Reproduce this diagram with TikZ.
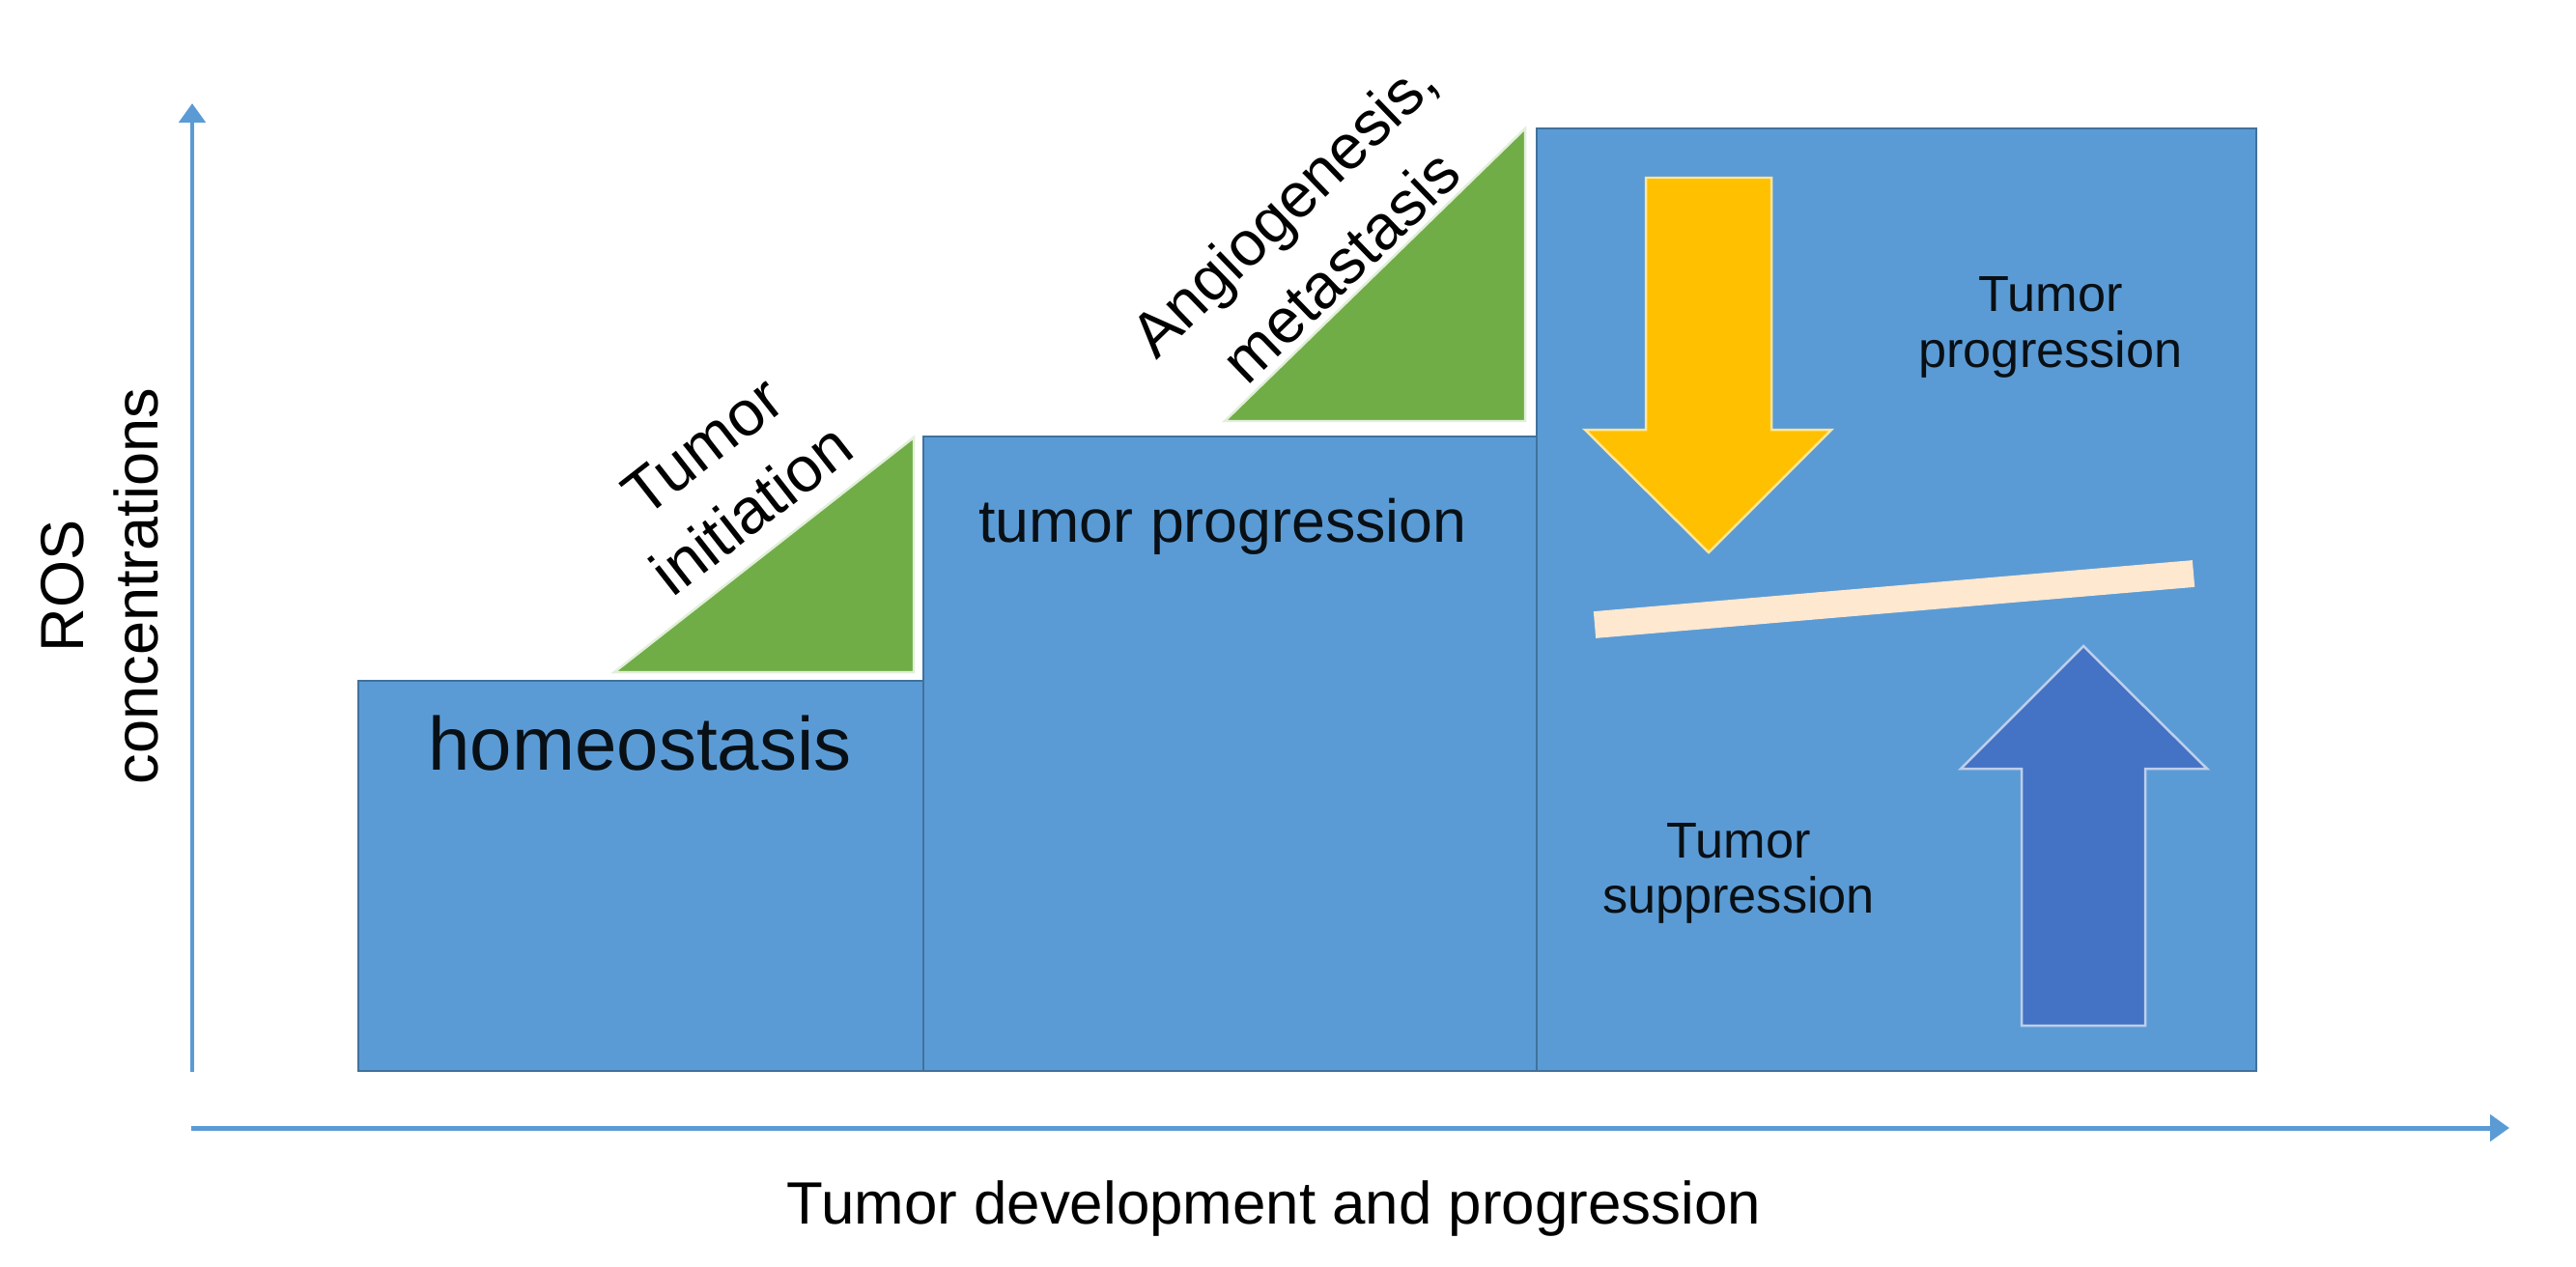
\documentclass[tikz,border=0pt]{standalone}
\usepackage{fontspec}
\setmainfont{Liberation Sans}
\usetikzlibrary{arrows.meta}
\definecolor{boxblue}{RGB}{91,155,213}
\definecolor{boxedge}{RGB}{65,113,156}
\definecolor{rampgreen}{RGB}{112,173,71}
\definecolor{pushgold}{RGB}{255,192,0}
\definecolor{pushblue}{RGB}{68,114,196}
\definecolor{beamcream}{RGB}{255,232,208}
\tikzset{stepbox/.style={fill=boxblue,draw=boxedge,line width=.6pt},ramp/.style={fill=rampgreen,draw=white!80!rampgreen,line width=.6pt},axis/.style={draw=boxblue,line width=1.2pt,-{Triangle[length=4.8pt,width=6.5pt]}}}

\begin{document}
\begin{tikzpicture}[x=1in,y=-1in]
\path[use as bounding box] (0,0) rectangle (8.89000,4.37333);
\coordinate (ybot) at (0.66333,3.70000);
\coordinate (ytop) at (0.66333,0.35667);
\coordinate (xbeg) at (0.66000,3.89333);
\coordinate (xend) at (8.66000,3.89333);
\draw[axis] (ybot) -- (ytop);
\draw[axis] (xbeg) -- (xend);
\draw[stepbox] (1.23667,2.35000) rectangle (3.18667,3.69667);
\draw[stepbox] (3.18667,1.50667) rectangle (5.30333,3.69667);
\draw[stepbox] (5.30333,0.44333) rectangle (7.78667,3.69667);
\draw[ramp] (2.12000,2.32000) -- (3.15333,2.32000) -- (3.15333,1.51000) -- cycle;
\draw[ramp] (4.22667,1.45333) -- (5.26333,1.45333) -- (5.26333,0.44333) -- cycle;
\draw[fill=pushgold,draw=pushgold!40!white,line width=.6pt] (5.68000,0.61333) -- (6.11333,0.61333) -- (6.11333,1.48333) -- (6.32000,1.48333) -- (5.89667,1.90667) -- (5.47000,1.48333) -- (5.68000,1.48333) -- cycle;
\draw[beamcream,line width=6.7pt] (5.50333,2.15667) -- (7.57000,1.98000);
\draw[fill=pushblue,draw=pushblue!35!white,line width=.6pt] (6.97667,3.54000) -- (7.40333,3.54000) -- (7.40333,2.65333) -- (7.61667,2.65333) -- (7.19000,2.23000) -- (6.76667,2.65333) -- (6.97667,2.65333) -- cycle;
\node (homeo) [anchor=base,inner sep=0pt,text=black!90!boxblue,font=\fontsize{18.8}{22}\selectfont] at (2.20833,2.65667) {homeostasis};
\node (prog) [anchor=base,inner sep=0pt,text=black!90!boxblue,font=\fontsize{15.1}{18}\selectfont] at (4.22000,1.87000) {tumor progression};
\node (init) [anchor=center,inner sep=0pt,align=center,rotate=38,font=\fontsize{15.9}{20}\selectfont] at (2.51000,1.65000) {Tumor\\initiation};
\node (angio) [anchor=center,inner sep=0pt,align=center,rotate=44,font=\fontsize{15.7}{20.5}\selectfont] at (4.52667,0.81667) {Angiogenesis,\\metastasis};
\node (upper) [anchor=center,inner sep=0pt,align=center,text=black!90!boxblue,font=\fontsize{12.6}{13.9}\selectfont] at (7.07667,1.13000) {Tumor\\progression};
\node (lower) [anchor=center,inner sep=0pt,align=center,text=black!90!boxblue,font=\fontsize{12.6}{13.9}\selectfont] at (6.00000,3.01500) {Tumor\\suppression};
\node (ros) [anchor=center,inner sep=0pt,align=center,rotate=90,font=\fontsize{15.2}{18.5}\selectfont] at (0.34500,2.02333) {ROS\\concentrations};
\node (devel) [anchor=base,inner sep=0pt,font=\fontsize{14.9}{17}\selectfont] at (4.39667,4.22333) {Tumor development and progression};
\end{tikzpicture}
\end{document}
